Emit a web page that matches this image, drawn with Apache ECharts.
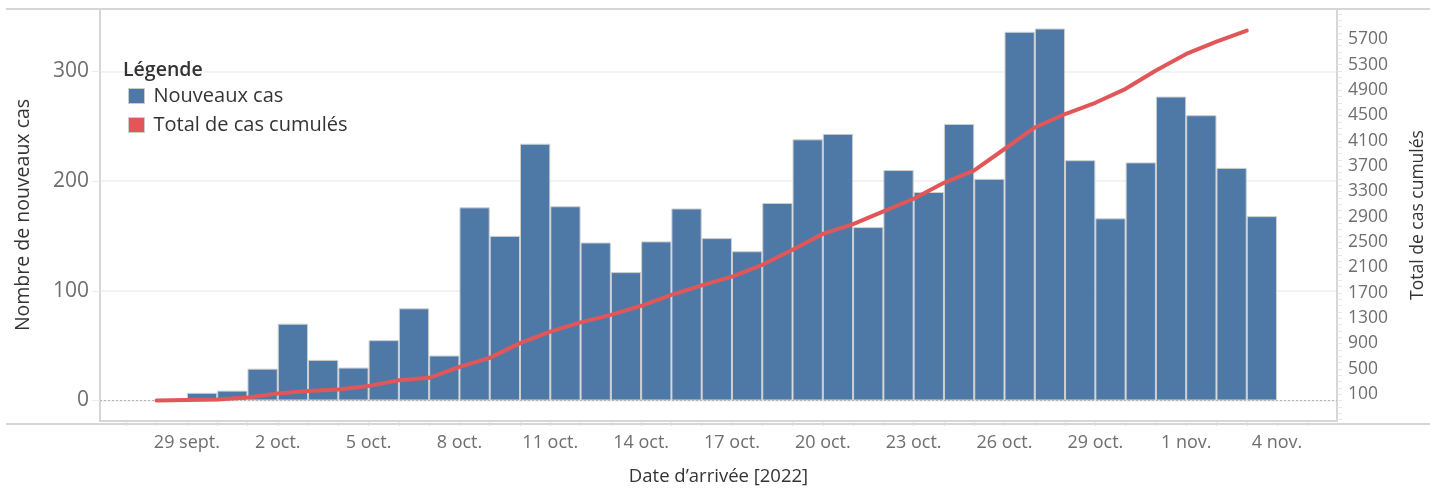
<!DOCTYPE html>
<html>
<head>
<meta charset="utf-8">
<script src="https://cdn.jsdelivr.net/npm/echarts@6/dist/echarts.min.js"></script>
<style>
  html, body { margin: 0; padding: 0; background: #fff; }
  #chart { width: 1437px; height: 491px; }
</style>
</head>
<body>
<div id="chart"></div>
<script>
// jours (index 0 = 28 sept.)
const dates = [
  '28 sept.', '29 sept.', '30 sept.', '1 oct.', '2 oct.', '3 oct.', '4 oct.', '5 oct.',
  '6 oct.', '7 oct.', '8 oct.', '9 oct.', '10 oct.', '11 oct.', '12 oct.', '13 oct.',
  '14 oct.', '15 oct.', '16 oct.', '17 oct.', '18 oct.', '19 oct.', '20 oct.', '21 oct.',
  '22 oct.', '23 oct.', '24 oct.', '25 oct.', '26 oct.', '27 oct.', '28 oct.', '29 oct.',
  '30 oct.', '31 oct.', '1 nov.', '2 nov.', '3 nov.', '4 nov.'
];
// nouveaux cas par jour
const newCases = [
  null, 7, 9, 29, 70, 37, 30, 55, 84, 41, 176, 150, 234, 177, 144, 117,
  145, 175, 148, 136, 180, 238, 243, 158, 210, 190, 252, 202, 336, 339, 219, 166,
  217, 277, 260, 212, 168, null
];
// total de cas cumulés
const cumulative = [
  0, 8, 16, 48, 110, 148, 175, 230, 318, 358, 530, 672, 905, 1088, 1232, 1352,
  1495, 1668, 1818, 1955, 2142, 2380, 2630, 2783, 2985, 3185, 3436, 3632, 3970, 4310, 4522, 4700,
  4920, 5210, 5470, 5665, 5838, null
];
// graduations
const xLabelDays = [1, 4, 7, 10, 13, 16, 19, 22, 25, 28, 31, 34, 37];
const xTickDays = [-1, 0, 1, 2, 3, 4, 5, 6, 7, 8, 9, 10, 11, 12, 13, 14, 15, 16, 17, 18, 19,
  20, 21, 22, 23, 24, 25, 26, 27, 28, 29, 30, 31, 32, 33, 34, 35, 36, 37, 38];
const leftTicks = [0, 100, 200, 300];
const rightLabels = [100, 500, 900, 1300, 1700, 2100, 2500, 2900, 3300, 3700, 4100, 4500, 4900, 5300, 5700];
const rightMinorTicks = [];
for (let v = -300; v <= 6100; v += 100) rightMinorTicks.push(v);

const FONT = '"Open Sans", sans-serif';
const axisGray = '#d6d6d6';
const labelGray = '#6e6e6e';
const titleDark = '#333333';

const chart = echarts.init(document.getElementById('chart'));
chart.setOption({
  animation: false,
  textStyle: { fontFamily: FONT },
  title: {
    text: 'Légende',
    left: 123,
    top: 59,
    padding: 0,
    textStyle: { fontSize: 19.5, fontWeight: 600, color: titleDark, lineHeight: 22, fontFamily: FONT }
  },
  legend: {
    orient: 'vertical',
    left: 128,
    top: 86,
    padding: 0,
    itemGap: 9,
    itemWidth: 16,
    itemHeight: 15,
    icon: 'rect',
    selectedMode: false,
    itemStyle: { borderColor: '#cccccc', borderWidth: 1 },
    textStyle: { fontSize: 20, color: titleDark, lineHeight: 20, padding: [0, 0, 0, 4], fontFamily: FONT },
    data: ['Nouveaux cas', 'Total de cas cumulés']
  },
  grid: { left: 100, right: 100, top: 9, bottom: 67, containLabel: false },
  xAxis: {
    type: 'value',
    min: -1.87,
    max: 38.98,
    name: 'Date d’arrivée [2022]',
    nameLocation: 'middle',
    nameGap: 46,
    nameTextStyle: { fontSize: 18.5, color: titleDark, fontWeight: 500, fontFamily: FONT },
    axisLine: { show: true, onZero: false, lineStyle: { color: axisGray, width: 2 } },
    axisTick: { show: true, length: 5, customValues: xTickDays, lineStyle: { color: '#dedede' } },
    axisLabel: {
      customValues: xLabelDays,
      formatter: v => dates[v],
      fontSize: 18,
      color: labelGray,
      margin: 13,
      fontFamily: FONT
    },
    splitLine: { show: false }
  },
  yAxis: [
    {
      type: 'value',
      min: -18.7,
      max: 356.8,
      name: 'Nombre de nouveaux cas',
      nameLocation: 'middle',
      nameGap: 67,
      nameTextStyle: { fontSize: 19.5, color: titleDark, fontFamily: FONT },
      axisLine: { show: true, onZero: false, lineStyle: { color: axisGray, width: 2 } },
      axisTick: { show: true, length: 8, customValues: leftTicks, lineStyle: { color: '#ececec' } },
      axisLabel: { customValues: leftTicks, fontSize: 21, color: labelGray, margin: 11, fontFamily: FONT },
      splitLine: { show: true, lineStyle: { color: '#efefef', width: 1.5 } }
    },
    {
      type: 'value',
      position: 'right',
      min: -324,
      max: 6180,
      name: 'Total de cas cumulés',
      nameLocation: 'middle',
      nameGap: 72,
      nameTextStyle: { fontSize: 17.5, color: titleDark, fontFamily: FONT },
      axisLine: { show: true, onZero: false, lineStyle: { color: axisGray, width: 2 } },
      axisTick: { show: true, length: 5, customValues: rightMinorTicks, lineStyle: { color: '#e6e6e6' } },
      axisLabel: {
        customValues: rightLabels,
        formatter: v => String(v),
        fontSize: 17.5,
        color: labelGray,
        margin: 11,
        fontFamily: FONT
      },
      splitLine: { show: false }
    }
  ],
  graphic: [
    // cadre haut et bas, sur toute la largeur
    { type: 'line', shape: { x1: 6, y1: 9, x2: 1430, y2: 9 }, style: { stroke: axisGray, lineWidth: 2 }, silent: true },
    { type: 'line', shape: { x1: 6, y1: 424, x2: 1430, y2: 424 }, style: { stroke: axisGray, lineWidth: 2 }, silent: true }
  ],
  series: [
    {
      name: 'Nouveaux cas',
      type: 'bar',
      yAxisIndex: 0,
      barWidth: '100%',
      data: dates.map((d, i) => [i + 0.5, newCases[i]]),
      itemStyle: { color: '#4e79a7', borderColor: '#cfcfcf', borderWidth: 1 },
      markLine: {
        silent: true,
        symbol: 'none',
        label: { show: false },
        lineStyle: { color: '#b5b5b5', type: [2, 2], width: 1 },
        data: [{ yAxis: 0 }]
      },
      z: 2
    },
    {
      name: 'Total de cas cumulés',
      type: 'line',
      yAxisIndex: 1,
      data: dates.map((d, i) => [i, cumulative[i]]),
      showSymbol: false,
      lineStyle: { color: '#e15759', width: 4, cap: 'round', join: 'round' },
      itemStyle: { color: '#e15759' },
      z: 5
    }
  ]
});
</script>
</body>
</html>
